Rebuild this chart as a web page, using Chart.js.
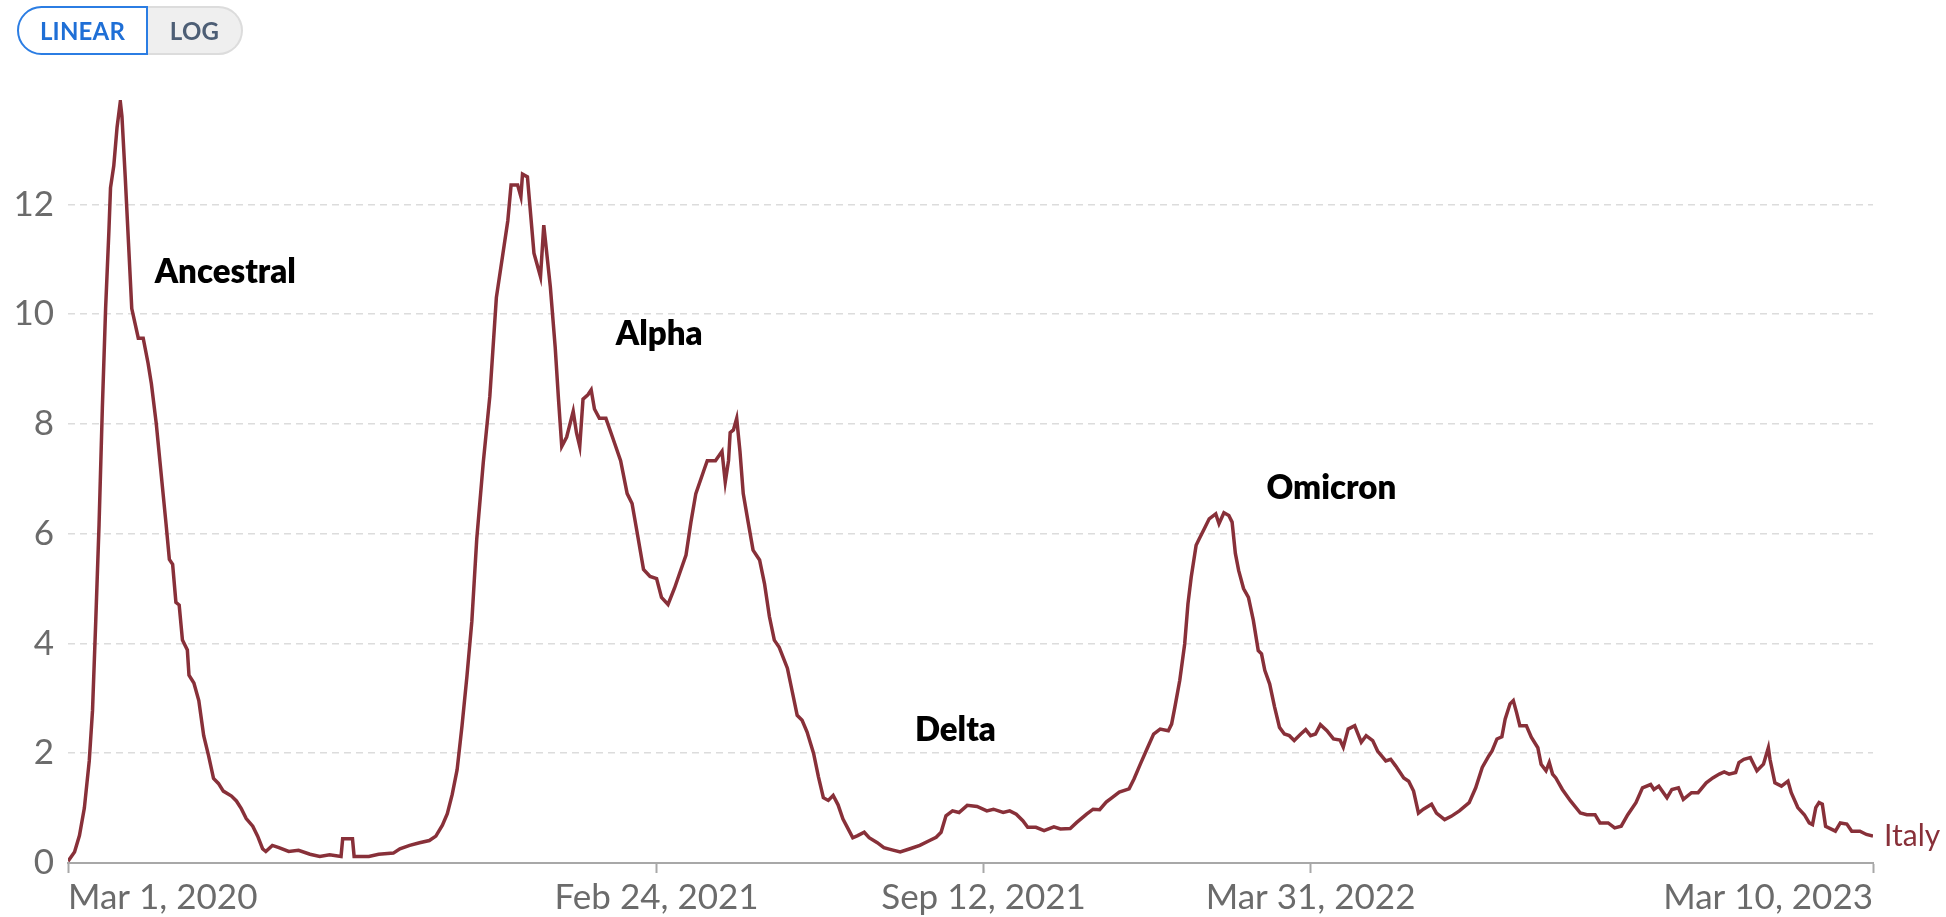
<!DOCTYPE html>
<html>
<head>
<meta charset="utf-8">
<title>Italy</title>
<script src="https://cdn.jsdelivr.net/npm/chart.js@4.4.1/dist/chart.umd.min.js"></script>
<style>
    html, body { margin: 0; padding: 0; background: #fff; }
    #wrap { position: absolute; left: 0; top: 0; width: 1946px; height: 917px; }
    .toggle { position: absolute; left: 17px; top: 6px; display: flex; height: 49px; z-index: 2; }
    .toggle button {
        font: 700 24px Lato, sans-serif; height: 49px; margin: 0; cursor: pointer;
        box-sizing: border-box; padding: 0; letter-spacing: 0.2px;
    }
    .toggle .linear {
        width: 131px; background: #fff; color: #1f6fd6;
        border: 2px solid #2b7de3; border-radius: 25px 0 0 25px;
    }
    .toggle .log {
        width: 95px; background: #efefef; color: #4d5e75;
        border: 2px solid #dcdcdc; border-left: none; border-radius: 0 25px 25px 0;
    }
</style>
</head>
<body>
<div class="toggle"><button class="linear">LINEAR</button><button class="log">LOG</button></div>
<div id="wrap"><canvas id="chart"></canvas></div>
<script>
// days since Mar 1, 2020 and the value at that day
const days = [
    0, 4, 7, 10, 13, 15, 17, 19, 21, 23, 25, 26, 28, 30, 32, 33, 35, 37, 39, 41,
    43, 46, 49, 51, 54, 57, 60, 62, 64, 66, 68, 70, 73, 74, 77, 80, 83, 86, 89, 92,
    95, 100, 103, 106, 109, 113, 116, 119, 121, 125, 129, 135, 141, 148, 154, 160, 167, 168, 174, 175,
    184, 190, 199, 203, 209, 215, 221, 225, 229, 232, 235, 238, 241, 244, 247, 250, 254, 258, 262, 266,
    269, 271, 275, 277, 278, 281, 285, 289, 291, 295, 298, 300, 302, 305, 309, 311, 313, 315, 318, 320,
    322, 325, 329, 333, 338, 342, 345, 348, 352, 356, 360, 363, 367, 371, 374, 378, 381, 384, 389, 391,
    396, 400, 402, 404, 405, 407, 409, 411, 413, 416, 419, 423, 426, 429, 432, 435, 440, 443, 446, 449,
    452, 456, 459, 462, 465, 468, 471, 474, 477, 480, 483, 487, 490, 495, 499, 504, 509, 515, 521, 527,
    531, 534, 537, 541, 545, 550, 556, 562, 566, 572, 576, 580, 584, 587, 592, 597, 603, 607, 613, 617,
    623, 627, 631, 635, 639, 643, 649, 652, 656, 660, 664, 668, 673, 675, 677, 680, 683, 685, 687, 690,
    692, 695, 698, 702, 704, 707, 710, 712, 714, 716, 719, 722, 725, 728, 730, 732, 735, 738, 741, 744,
    747, 750, 754, 757, 760, 763, 766, 770, 774, 778, 780, 783, 787, 791, 794, 798, 801, 806, 809, 812,
    817, 820, 823, 826, 829, 834, 837, 842, 846, 851, 857, 861, 865, 869, 871, 874, 877, 879, 882, 884,
    886, 888, 892, 895, 899, 901, 904, 906, 908, 910, 914, 919, 925, 929, 934, 937, 942, 946, 950, 954,
    959, 963, 968, 970, 973, 978, 981, 985, 988, 993, 997, 1002, 1006, 1010, 1013, 1016, 1020, 1022, 1025, 1029,
    1031, 1033, 1037, 1040, 1041, 1044, 1048, 1052, 1054, 1058, 1062, 1065, 1067, 1069, 1071, 1073, 1075, 1081, 1084, 1088,
    1091, 1096, 1100, 1104
];
const italy = [
    0.03, 0.2, 0.5, 1.0, 1.86, 2.78, 4.43, 6.17, 8.28, 10.1, 11.5, 12.3, 12.7, 13.4, 13.87, 13.6, 12.5, 11.3, 10.1, 9.83,
    9.56, 9.56, 9.1, 8.73, 8.0, 7.08, 6.17, 5.53, 5.44, 4.75, 4.7, 4.06, 3.88, 3.42, 3.28, 2.96, 2.32, 1.95, 1.54, 1.45,
    1.31, 1.22, 1.13, 0.99, 0.81, 0.67, 0.49, 0.26, 0.21, 0.32, 0.28, 0.21, 0.23, 0.16, 0.12, 0.15, 0.12, 0.44, 0.44, 0.12,
    0.12, 0.16, 0.18, 0.26, 0.32, 0.37, 0.41, 0.49, 0.69, 0.9, 1.25, 1.7, 2.5, 3.4, 4.4, 5.9, 7.3, 8.5, 10.3, 11.1,
    11.7, 12.35, 12.35, 12.14, 12.55, 12.5, 11.11, 10.68, 11.62, 10.5, 9.39, 8.45, 7.59, 7.76, 8.23, 7.84, 7.59, 8.45, 8.53, 8.62,
    8.27, 8.1, 8.1, 7.76, 7.33, 6.73, 6.55, 6.04, 5.35, 5.22, 5.18, 4.84, 4.71, 5.01, 5.27, 5.61, 6.21, 6.73, 7.16, 7.33,
    7.33, 7.5, 6.94, 7.33, 7.84, 7.89, 8.1, 7.5, 6.73, 6.21, 5.7, 5.52, 5.09, 4.49, 4.06, 3.93, 3.55, 3.12, 2.69, 2.6,
    2.39, 2.0, 1.57, 1.19, 1.14, 1.23, 1.06, 0.8, 0.63, 0.46, 0.5, 0.56, 0.46, 0.37, 0.28, 0.24, 0.2, 0.26, 0.32, 0.41,
    0.47, 0.56, 0.86, 0.95, 0.92, 1.05, 1.03, 0.95, 0.98, 0.92, 0.95, 0.89, 0.77, 0.65, 0.65, 0.59, 0.66, 0.62, 0.63, 0.74,
    0.89, 0.98, 0.97, 1.11, 1.2, 1.29, 1.35, 1.53, 1.81, 2.08, 2.35, 2.44, 2.41, 2.53, 2.84, 3.33, 3.99, 4.72, 5.21, 5.79,
    5.91, 6.09, 6.27, 6.36, 6.18, 6.38, 6.33, 6.21, 5.64, 5.33, 5.0, 4.84, 4.42, 3.87, 3.81, 3.51, 3.26, 2.84, 2.47, 2.35,
    2.32, 2.23, 2.35, 2.43, 2.32, 2.35, 2.52, 2.41, 2.26, 2.24, 2.11, 2.44, 2.5, 2.2, 2.32, 2.23, 2.04, 1.86, 1.89, 1.77,
    1.55, 1.49, 1.31, 0.91, 0.98, 1.07, 0.91, 0.79, 0.85, 0.95, 1.1, 1.37, 1.74, 1.95, 2.04, 2.26, 2.3, 2.62, 2.9, 2.96,
    2.74, 2.5, 2.5, 2.29, 2.1, 1.8, 1.68, 1.83, 1.62, 1.55, 1.34, 1.13, 0.91, 0.88, 0.88, 0.73, 0.73, 0.64, 0.67, 0.88,
    1.1, 1.37, 1.43, 1.34, 1.4, 1.19, 1.34, 1.37, 1.16, 1.28, 1.28, 1.46, 1.55, 1.62, 1.66, 1.62, 1.65, 1.83, 1.89, 1.92,
    1.8, 1.68, 1.8, 2.1, 1.89, 1.46, 1.4, 1.49, 1.28, 1.01, 0.88, 0.73, 0.7, 1.01, 1.1, 1.07, 0.67, 0.58, 0.73, 0.71,
    0.58, 0.58, 0.52, 0.49
];

const xTickDays = [0, 360, 560, 760, 1104];
const xTickLabels = ['Mar 1, 2020', 'Feb 24, 2021', 'Sep 12, 2021', 'Mar 31, 2022', 'Mar 10, 2023'];
const yTicks = [0, 2, 4, 6, 8, 10, 12];

// wave names, placed in data units (day, value at text baseline)
const waveNames = ['Ancestral', 'Alpha', 'Delta', 'Omicron'];
const waveDays = [53, 335, 518, 733];
const waveValues = [10.56, 9.43, 2.22, 6.64];

const seriesName = 'Italy';
const lineColor = '#883039';

document.addEventListener('DOMContentLoaded', function () {
    const labelPlugin = {
        id: 'waveLabels',
        afterDatasetsDraw(chart) {
            const { ctx, scales: { x, y } } = chart;
            ctx.save();
            ctx.font = '800 33px Lato';
            ctx.fillStyle = '#000';
            ctx.textAlign = 'left';
            ctx.textBaseline = 'alphabetic';
            waveNames.forEach((name, i) => {
                ctx.fillText(name, x.getPixelForValue(waveDays[i]), y.getPixelForValue(waveValues[i]));
            });

            const pts = chart.getDatasetMeta(0).data;
            const last = pts[pts.length - 1];
            ctx.font = '30px Lato';
            ctx.fillStyle = lineColor;
            ctx.textBaseline = 'middle';
            ctx.fillText(seriesName, last.x + 11, last.y);
            ctx.restore();
        }
    };

    const draw = () => new Chart(document.getElementById('chart').getContext('2d'), {
        type: 'line',
        data: {
            datasets: [{
                label: seriesName,
                data: days.map((d, i) => ({ x: d, y: italy[i] })),
                borderColor: lineColor,
                borderWidth: 3.5,
                pointRadius: 0,
                tension: 0,
                fill: false,
            }]
        },
        options: {
            responsive: true,
            maintainAspectRatio: false,
            animation: false,
            layout: { padding: { top: 100, right: 73, left: 0, bottom: 0 } },
            plugins: {
                legend: { display: false },
                tooltip: { enabled: false }
            },
            scales: {
                x: {
                    type: 'linear',
                    min: 0,
                    max: 1104,
                    afterBuildTicks: (scale) => { scale.ticks = xTickDays.map(v => ({ value: v })); },
                    afterFit: (scale) => { scale.height = 54; },
                    grid: {
                        drawOnChartArea: false,
                        drawTicks: true,
                        tickLength: 10,
                        tickColor: '#a8a8a8',
                        tickWidth: 2,
                    },
                    border: { display: true, color: '#a8a8a8', width: 2 },
                    ticks: {
                        align: 'inner',
                        maxRotation: 0,
                        autoSkip: false,
                        padding: 4,
                        color: '#6b6b6b',
                        font: { family: 'Lato', size: 35 },
                        callback: (value) => xTickLabels[xTickDays.indexOf(value)]
                    }
                },
                y: {
                    min: 0,
                    max: 13.9,
                    afterBuildTicks: (scale) => { scale.ticks = yTicks.map(v => ({ value: v })); },
                    afterFit: (scale) => { scale.width = 68; },
                    grid: {
                        drawTicks: false,
                        lineWidth: 1.5,
                        color: (c) => (c.tick && c.tick.value === 0) ? 'rgba(0,0,0,0)' : '#dcdcdc'
                    },
                    border: { display: false, dash: [7, 5] },
                    ticks: {
                        padding: 14,
                        color: '#6b6b6b',
                        font: { family: 'Lato', size: 35 }
                    }
                }
            }
        },
        plugins: [labelPlugin]
    });

    if (document.fonts && document.fonts.load) {
        Promise.all([document.fonts.load('35px Lato'), document.fonts.load('800 33px Lato')])
            .then(draw, draw);
    } else {
        draw();
    }
});
</script>
</body>
</html>
